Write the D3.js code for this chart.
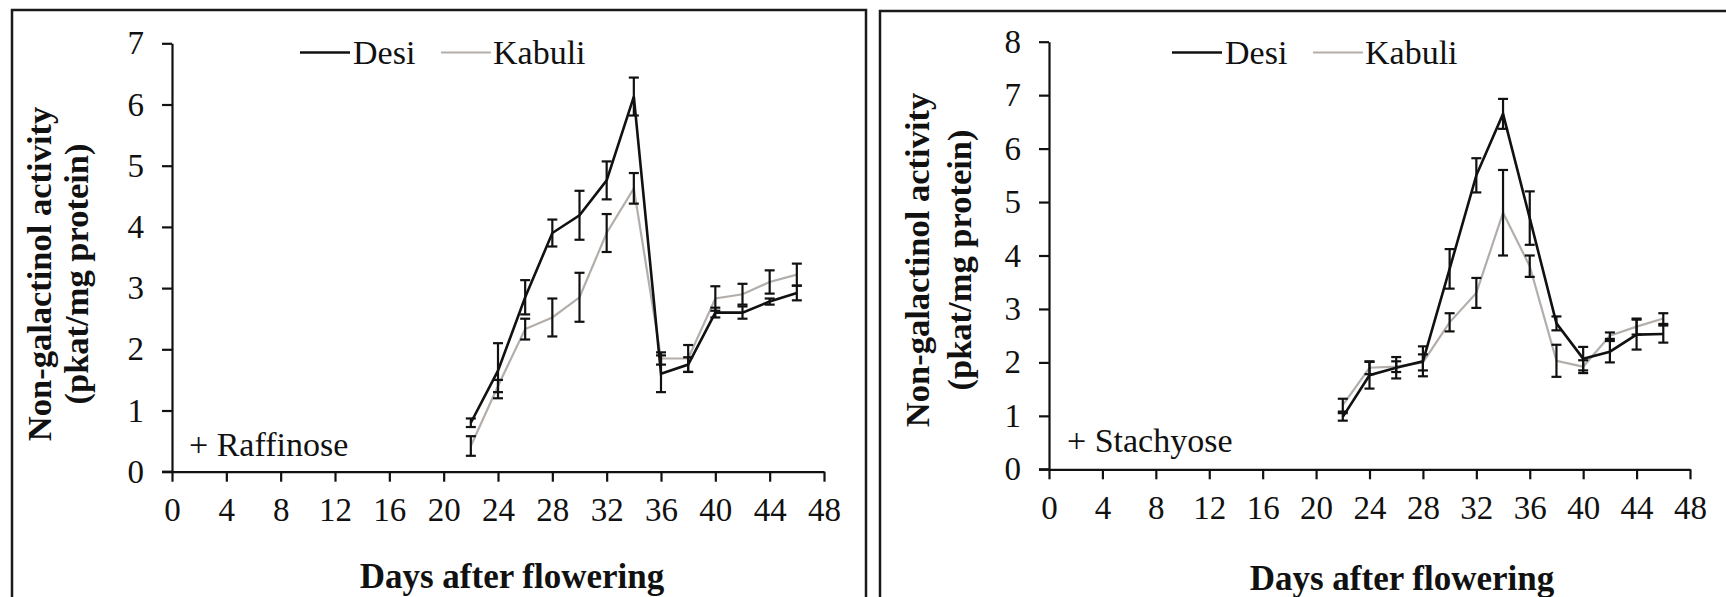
<!DOCTYPE html>
<html>
<head>
<meta charset="utf-8">
<script src="https://cdn.jsdelivr.net/npm/d3@7/dist/d3.min.js"></script>
<style>
  html, body { margin: 0; padding: 0; background: #fff; }
  svg { display: block; }
  text { font-family: "Liberation Serif", "Times New Roman", serif; fill: #111; }
</style>
</head>
<body>
<svg id="chart" width="1726" height="597"></svg>
<script>
// ---------- DATA ----------
const days = [22, 24, 26, 28, 30, 32, 34, 36, 38, 40, 42, 44, 46];
const xTicks = [0, 4, 8, 12, 16, 20, 24, 28, 32, 36, 40, 44, 48];
const seriesNames = ["Desi", "Kabuli"];

const raffDesi      = [0.80, 1.65, 2.85, 3.90, 4.19, 4.76, 6.13, 1.60, 1.75, 2.60, 2.60, 2.78, 2.92];
const raffDesiErr   = [0.07, 0.45, 0.28, 0.22, 0.40, 0.31, 0.31, 0.30, 0.12, 0.08, 0.10, 0.05, 0.12];
const raffKabuli    = [0.42, 1.40, 2.33, 2.52, 2.85, 3.90, 4.63, 1.85, 1.85, 2.83, 2.90, 3.10, 3.22];
const raffKabuliErr = [0.16, 0.10, 0.17, 0.31, 0.40, 0.31, 0.25, 0.10, 0.22, 0.20, 0.17, 0.19, 0.18];

const stachDesi      = [0.98, 1.76, 1.90, 2.02, 3.75, 5.50, 6.65, 4.70, 2.73, 2.07, 2.20, 2.52, 2.53];
const stachDesiErr   = [0.07, 0.25, 0.20, 0.28, 0.37, 0.32, 0.28, 0.50, 0.13, 0.22, 0.20, 0.28, 0.16];
const stachKabuli    = [1.20, 1.90, 1.92, 2.00, 2.75, 3.30, 4.80, 3.80, 2.03, 1.92, 2.50, 2.67, 2.82];
const stachKabuliErr = [0.12, 0.12, 0.10, 0.15, 0.17, 0.28, 0.80, 0.20, 0.30, 0.12, 0.06, 0.15, 0.10];

const raffYTicks  = [0, 1, 2, 3, 4, 5, 6, 7];
const stachYTicks = [0, 1, 2, 3, 4, 5, 6, 7, 8];

// ---------- LAYOUT ----------
const panels = [
  {
    box: [12, 10, 866, 620],
    x0: 172, x1: 824, yBottom: 471.7, yTop: 43.3, yMax: 7, yTicks: raffYTicks,
    desi: raffDesi, desiErr: raffDesiErr, kab: raffKabuli, kabErr: raffKabuliErr,
    note: "+ Raffinose", noteX: 189, noteY: 456,
    legendX: 300, legendY: 52.5,
    yTitleY: 274, yTitle1X: 51, yTitle2X: 88,
    xTitleX: 512, xTitleY: 588
  },
  {
    box: [880, 11, 1740, 620],
    x0: 1049, x1: 1690, yBottom: 469.3, yTop: 41.7, yMax: 8, yTicks: stachYTicks,
    desi: stachDesi, desiErr: stachDesiErr, kab: stachKabuli, kabErr: stachKabuliErr,
    note: "+ Stachyose", noteX: 1067, noteY: 452,
    legendX: 1172, legendY: 52.5,
    yTitleY: 260, yTitle1X: 929, yTitle2X: 971,
    xTitleX: 1402, xTitleY: 590
  }
];

const svg = d3.select("#chart");
const desiColor = "#111111";
const kabColor = "#b3aeaa";
const fmt = d3.format("d");

panels.forEach(p => {
  const g = svg.append("g");
  // frame
  g.append("rect")
    .attr("x", p.box[0]).attr("y", p.box[1])
    .attr("width", p.box[2] - p.box[0]).attr("height", p.box[3] - p.box[1])
    .attr("fill", "none").attr("stroke", "#1a1a1a").attr("stroke-width", 2.5);

  const x = d3.scaleLinear().domain([0, 48]).range([p.x0, p.x1]);
  const y = d3.scaleLinear().domain([0, p.yMax]).range([p.yBottom, p.yTop]);

  // axes
  const xAxis = d3.axisBottom(x).tickValues(xTicks).tickFormat(fmt).tickSize(10).tickSizeOuter(0).tickPadding(16);
  const yAxis = d3.axisLeft(y).tickValues(p.yTicks).tickFormat(fmt).tickSize(10).tickSizeOuter(0).tickPadding(18);

  const gx = g.append("g").attr("transform", `translate(0,${p.yBottom})`).call(xAxis);
  const gy = g.append("g").attr("transform", `translate(${p.x0},0)`).call(yAxis);
  [gx, gy].forEach(a => {
    a.select(".domain").attr("stroke", "#111").attr("stroke-width", 2.2);
    a.selectAll(".tick line").attr("stroke", "#111").attr("stroke-width", 2.2);
    a.selectAll(".tick text")
      .attr("font-family", "Liberation Serif, Times New Roman, serif")
      .attr("font-size", 33).attr("fill", "#111");
  });
  // extend x-axis line left to cover y tick at 0
  g.append("line").attr("x1", p.x0 - 10).attr("x2", p.x0).attr("y1", p.yBottom).attr("y2", p.yBottom)
    .attr("stroke", "#111").attr("stroke-width", 2.2);

  // lines
  const line = d3.line().x((d, i) => x(days[i])).y(d => y(d));
  g.append("path").datum(p.kab).attr("d", line)
    .attr("fill", "none").attr("stroke", kabColor).attr("stroke-width", 2.2);
  g.append("path").datum(p.desi).attr("d", line)
    .attr("fill", "none").attr("stroke", desiColor).attr("stroke-width", 2.6);

  // error bars
  const drawErr = (vals, errs) => {
    const eg = g.append("g").attr("stroke", "#111").attr("stroke-width", 2.2);
    vals.forEach((v, i) => {
      const cx = x(days[i]);
      const yt = y(v + errs[i]), yb = y(v - errs[i]);
      eg.append("line").attr("x1", cx).attr("x2", cx).attr("y1", yt).attr("y2", yb);
      eg.append("line").attr("x1", cx - 5).attr("x2", cx + 5).attr("y1", yt).attr("y2", yt);
      eg.append("line").attr("x1", cx - 5).attr("x2", cx + 5).attr("y1", yb).attr("y2", yb);
    });
  };
  drawErr(p.kab, p.kabErr);
  drawErr(p.desi, p.desiErr);

  // legend
  const lg = g.append("g");
  const lx = p.legendX, ly = p.legendY;
  lg.append("line").attr("x1", lx).attr("x2", lx + 50).attr("y1", ly).attr("y2", ly)
    .attr("stroke", desiColor).attr("stroke-width", 2.4);
  lg.append("text").attr("x", lx + 53).attr("y", ly + 11).attr("font-size", 34)
    .text(seriesNames[0]);
  lg.append("line").attr("x1", lx + 141).attr("x2", lx + 191).attr("y1", ly).attr("y2", ly)
    .attr("stroke", kabColor).attr("stroke-width", 2.2);
  lg.append("text").attr("x", lx + 193).attr("y", ly + 11).attr("font-size", 34)
    .text(seriesNames[1]);

  // note
  g.append("text").attr("x", p.noteX).attr("y", p.noteY).attr("font-size", 34).text(p.note);

  // x title
  g.append("text").attr("x", p.xTitleX).attr("y", p.xTitleY)
    .attr("text-anchor", "middle").attr("font-size", 35).attr("font-weight", "bold")
    .text("Days after flowering");

  // y title
  g.append("text")
    .attr("transform", `translate(${p.yTitle1X},${p.yTitleY}) rotate(-90)`)
    .attr("text-anchor", "middle").attr("font-size", 34.5).attr("font-weight", "bold")
    .text("Non-galactinol activity");
  g.append("text")
    .attr("transform", `translate(${p.yTitle2X},${p.yTitleY}) rotate(-90)`)
    .attr("text-anchor", "middle").attr("font-size", 34.5).attr("font-weight", "bold")
    .text("(pkat/mg protein)");
});
</script>
</body>
</html>
